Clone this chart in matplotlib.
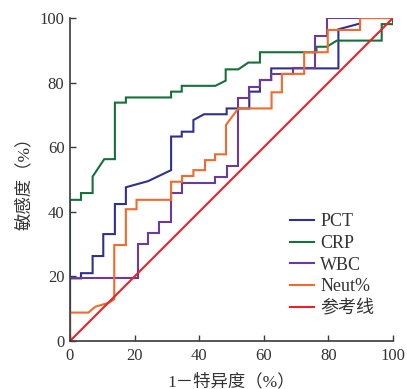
import matplotlib
matplotlib.use("Agg")
import matplotlib.pyplot as plt

# ---- data (percent) ----
pct_x = [0, 0, 3.4, 3.4, 7.0, 7.0, 10.3, 10.3, 13.9, 13.9, 17.3, 17.3, 24.2, 31.3, 31.3, 34.6, 34.6, 38.2, 38.2, 41.5, 48.5, 48.5, 55.5, 55.5, 58.8, 58.8, 62.3, 62.3, 83.1, 83.1, 89.8, 89.8, 100]
pct_y = [0, 19.4, 19.4, 21.0, 21.0, 26.3, 26.3, 33.1, 33.1, 42.4, 42.4, 47.6, 49.5, 52.9, 63.3, 63.3, 64.8, 64.8, 68.4, 70.2, 70.2, 72.0, 72.0, 77.2, 77.2, 80.8, 80.8, 84.4, 84.4, 96.5, 98.3, 100, 100]

crp_x = [0, 0, 3.4, 3.4, 7.0, 7.0, 10.6, 13.9, 13.9, 17.3, 17.3, 31.3, 31.3, 34.6, 34.6, 45.0, 48.2, 48.2, 52.1, 55.2, 58.8, 58.8, 76.3, 76.3, 79.5, 82.6, 96.5, 96.5, 100, 100]
crp_y = [0, 43.7, 43.7, 45.8, 45.8, 50.9, 56.3, 56.3, 73.8, 73.8, 75.4, 75.4, 77.2, 77.2, 79.0, 79.0, 80.6, 84.1, 84.1, 86.2, 86.2, 89.4, 89.4, 91.1, 91.1, 93.0, 93.0, 98.1, 98.1, 100]

wbc_x = [0, 0, 21.0, 21.0, 24.2, 24.2, 27.6, 27.6, 31.3, 31.3, 34.8, 34.8, 44.9, 44.9, 48.5, 48.5, 52.0, 52.0, 55.4, 55.4, 58.8, 58.8, 62.2, 62.2, 69.1, 69.1, 76.0, 76.0, 79.5, 79.5, 100]
wbc_y = [0, 19.6, 19.6, 30.0, 30.0, 33.5, 33.5, 36.9, 36.9, 45.8, 45.8, 49.0, 49.0, 50.8, 50.8, 54.2, 54.2, 75.3, 75.3, 78.7, 78.7, 80.8, 80.8, 82.6, 82.6, 84.4, 84.4, 94.5, 94.5, 100, 100]

neut_x = [0, 0, 5.7, 7.8, 11.9, 13.7, 13.7, 17.3, 17.3, 20.6, 20.6, 31.3, 31.3, 34.7, 34.7, 38.2, 38.2, 41.8, 41.8, 44.9, 44.9, 48.3, 48.3, 52.1, 62.4, 62.4, 65.6, 65.6, 72.5, 72.5, 79.8, 79.8, 89.8, 89.8, 100]
neut_y = [0, 8.8, 8.8, 10.6, 11.8, 12.9, 29.7, 29.7, 40.8, 40.8, 43.7, 43.7, 49.3, 49.3, 51.1, 51.1, 52.9, 52.9, 56.0, 56.0, 57.8, 57.8, 66.9, 72.0, 72.0, 77.0, 77.0, 82.7, 82.7, 89.4, 89.4, 96.3, 96.3, 100, 100]

ref_x = [0, 100]
ref_y = [0, 100]

labels = ["PCT", "CRP", "WBC", "Neut%", "参考线"]
colors = ["#2E3192", "#16703C", "#6A3A9C", "#F26A2C", "#E8232A"]
ticks = [0, 20, 40, 60, 80, 100]

serif = ["Liberation Serif", "Noto Sans CJK SC", "DejaVu Sans"]
plt.rcParams["font.family"] = serif

fig = plt.figure(figsize=(4.07, 3.89), dpi=100)
ax = fig.add_axes([70/407, 1-341/389, 323/407, 323/389])

series = [(pct_x, pct_y), (crp_x, crp_y), (wbc_x, wbc_y), (neut_x, neut_y), (ref_x, ref_y)]
for (xs, ys), lab, c in zip(series, labels, colors):
    ax.plot(xs, ys, color=c, lw=1.5, label=lab, solid_joinstyle="miter")

ax.set_xlim(0, 100)
ax.set_ylim(0, 100)
ax.set_xticks(ticks)
ax.set_yticks(ticks)
for s in ["top", "right"]:
    ax.spines[s].set_visible(False)
for s in ["left", "bottom"]:
    ax.spines[s].set_color("#3a3a3a")
    ax.spines[s].set_linewidth(1.2)
ax.tick_params(direction="in", length=4.5, width=1.0, color="#3a3a3a",
               labelsize=12, labelcolor="#333333")
ax.tick_params(axis="x", pad=5)
ax.tick_params(axis="y", pad=4)

ax.set_xlabel("1－特异度（%）", fontsize=12.5, color="#333333", labelpad=7)
ax.set_ylabel("敏感度（%）", fontsize=12.5, color="#333333", labelpad=5)

leg = ax.legend(loc="upper left", bbox_to_anchor=(0.681, 0.395), frameon=False,
                fontsize=13, handlelength=1.33, handletextpad=0.35,
                labelspacing=0.26, borderpad=0, borderaxespad=0)
for t in leg.get_texts():
    t.set_color("#333333")

fig.savefig("out.png", dpi=100)
